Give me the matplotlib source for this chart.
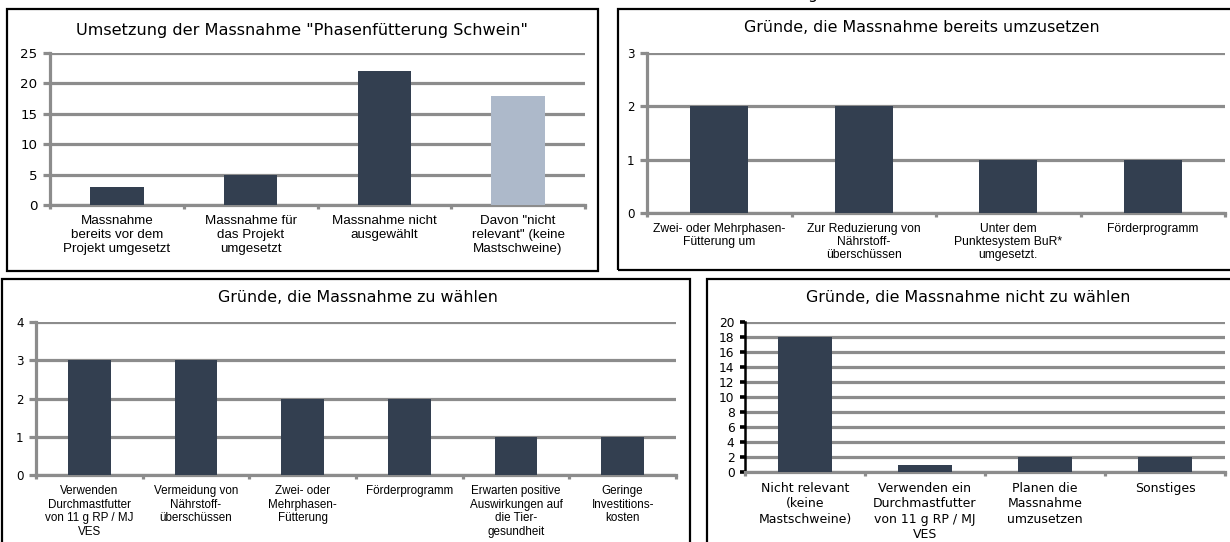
import matplotlib
matplotlib.use("Agg")
import matplotlib.pyplot as plt
from matplotlib.patches import Rectangle

# ---- data -------------------------------------------------------------
umsetzung_labels = ["Massnahme\nbereits vor dem\nProjekt umgesetzt",
                    "Massnahme für\ndas Projekt\numgesetzt",
                    "Massnahme nicht\nausgewählt",
                    "Davon \"nicht\nrelevant\" (keine\nMastschweine)"]
umsetzung_values = [3, 5, 22, 18]

bereits_labels = ["Zwei- oder Mehrphasen-\nFütterung um",
                  "Zur Reduzierung von\nNährstoff-\nüberschüssen",
                  "Unter dem\nPunktesystem BuR*\numgesetzt.",
                  "Förderprogramm"]
bereits_values = [2, 2, 1, 1]

waehlen_labels = ["Verwenden\nDurchmastfutter\nvon 11 g RP / MJ\nVES",
                  "Vermeidung von\nNährstoff-\nüberschüssen",
                  "Zwei- oder\nMehrphasen-\nFütterung",
                  "Förderprogramm",
                  "Erwarten positive\nAuswirkungen auf\ndie Tier-\ngesundheit",
                  "Geringe\nInvestitions-\nkosten"]
waehlen_values = [3, 3, 2, 2, 1, 1]

nicht_labels = ["Nicht relevant\n(keine\nMastschweine)",
                "Verwenden ein\nDurchmastfutter\nvon 11 g RP / MJ\nVES",
                "Planen die\nMassnahme\numzusetzen",
                "Sonstiges"]
nicht_values = [18, 1, 2, 2]

# ---- style ------------------------------------------------------------
W, H = 1230, 542
DARK = "#333F50"
LIGHT = "#ADB9CA"
GRID = "#8C8C8C"
plt.rcParams["font.family"] = ["DejaVu Sans"]

fig = plt.figure(figsize=(W / 100, H / 100), dpi=100)


def px_rect(x0, y0, x1, y1):
    return [x0 / W, 1 - y1 / H, (x1 - x0) / W, (y1 - y0) / H]


def frame(x0, y0, x1, y1):
    fig.add_artist(Rectangle((x0 / W, 1 - y1 / H), (x1 - x0) / W, (y1 - y0) / H,
                             transform=fig.transFigure, fill=False,
                             edgecolor="black", linewidth=1.6, zorder=0))


def panel(box, labels, values, colors, ymax, ystep,
          lab_size, lab_family, lab_ls, tick_size, bar_w=0.4, black_axis=False):
    ax = fig.add_axes(px_rect(*box))
    x = range(len(values))
    ax.bar(x, values, width=bar_w, color=colors, zorder=3)
    ax.set_xlim(-0.5, len(values) - 0.5)
    ax.set_ylim(0, ymax)
    ax.set_yticks(range(0, ymax + 1, ystep))
    ax.yaxis.grid(True, color=GRID, linewidth=2.3, zorder=1)
    ax.set_axisbelow(True)
    for s in ("top", "right"):
        ax.spines[s].set_visible(False)
    ax.spines["bottom"].set_color(GRID)
    ax.spines["bottom"].set_linewidth(2.3)
    if black_axis:
        ax.spines["left"].set_color("black")
        ax.spines["left"].set_linewidth(1.8)
        ax.tick_params(axis="y", color="black", length=3.5, width=2.6)
    else:
        ax.spines["left"].set_color(GRID)
        ax.spines["left"].set_linewidth(2.3)
        ax.tick_params(axis="y", color=GRID, length=5, width=2.3)
    ax.tick_params(axis="y", labelsize=tick_size, pad=4)
    # category labels in the middle, tick marks on the category borders
    ax.set_xticks(list(x))
    ax.set_xticklabels(labels, fontsize=lab_size, family=lab_family,
                       linespacing=lab_ls, va="top")
    ax.tick_params(axis="x", which="major", length=0, pad=7)
    ax.set_xticks([i - 0.5 for i in range(len(values) + 1)], minor=True)
    ax.tick_params(axis="x", which="minor", color=GRID, length=3, width=2.3)
    return ax


# panel frames
frame(7, 9, 598, 271)
frame(618, 9, 1240, 270)
frame(2, 279, 690, 560)
frame(707, 279, 1240, 560)

SANS = ["Liberation Sans", "DejaVu Sans"]

panel((50, 53, 585, 205), umsetzung_labels, umsetzung_values,
      [DARK, DARK, DARK, LIGHT], 25, 5, 9.6, SANS, 1.25, 9.6)
fig.text(302 / W, 1 - 31 / H, "Umsetzung der Massnahme \"Phasenfütterung Schwein\"",
         ha="center", va="center", fontsize=11.6)

panel((647, 53, 1225, 213), bereits_labels, bereits_values,
      [DARK] * 4, 3, 1, 8.7, SANS, 1.15, 8.6)
fig.text(922 / W, 1 - 28 / H, "Gründe, die Massnahme bereits umzusetzen",
         ha="center", va="center", fontsize=11.4)

panel((36, 322, 676, 475), waehlen_labels, waehlen_values,
      [DARK] * 6, 4, 1, 8.4, SANS, 1.2, 8.6)
fig.text(358 / W, 1 - 298 / H, "Gründe, die Massnahme zu wählen",
         ha="center", va="center", fontsize=11.4)

panel((745, 322, 1225, 472), nicht_labels, nicht_values,
      [DARK] * 4, 20, 2, 9.0, ["DejaVu Sans"], 1.25, 8.8, bar_w=0.45, black_axis=True)
fig.text(968 / W, 1 - 298 / H, "Gründe, die Massnahme nicht zu wählen",
         ha="center", va="center", fontsize=11.4)

# tail of a heading running off the top edge
fig.text(812 / W, 1 + 1 / H, "g", ha="center", va="baseline", fontsize=11.3)

fig.savefig("out.png", dpi=100)
